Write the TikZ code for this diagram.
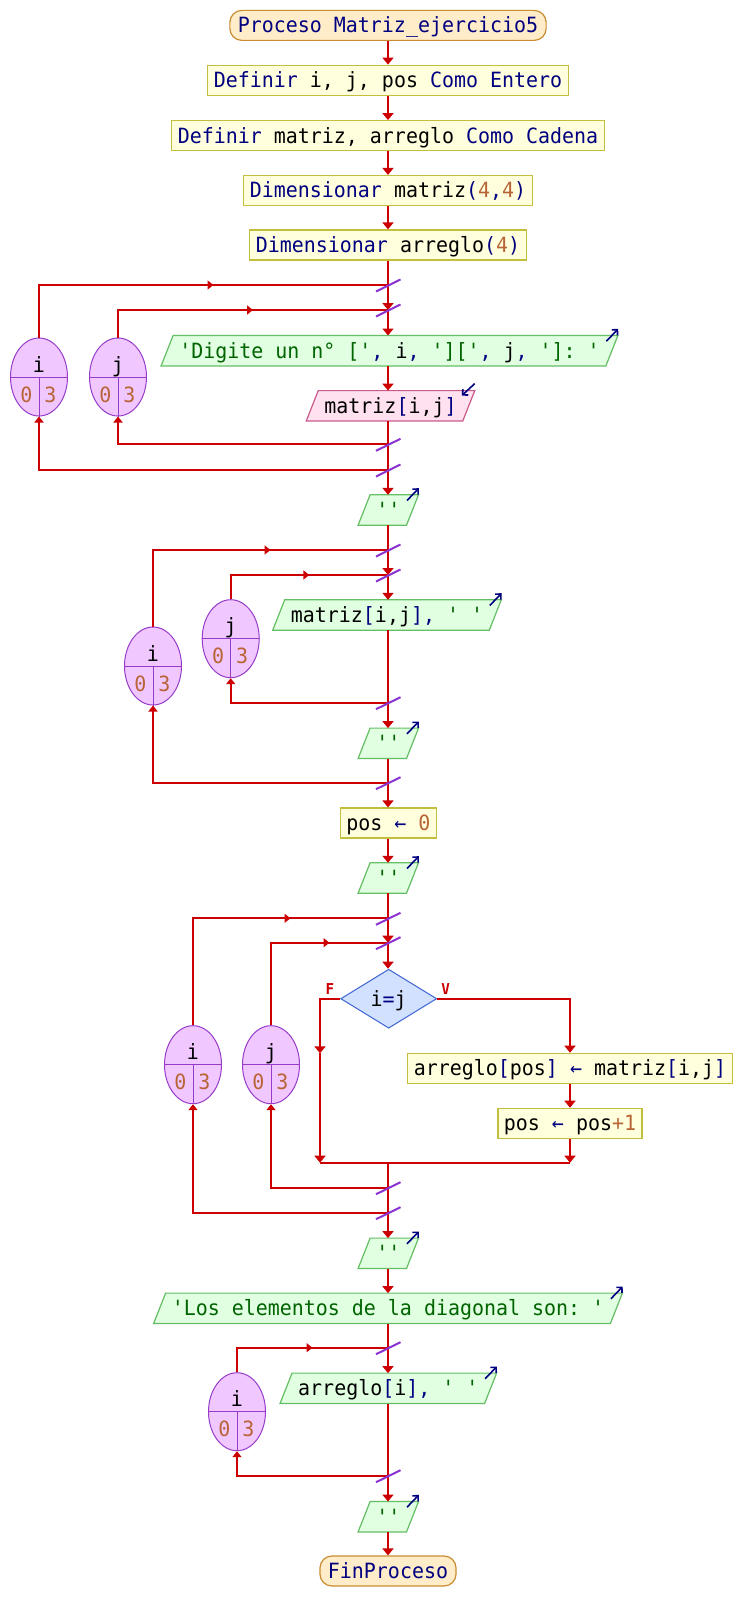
\documentclass[tikz,border=0pt]{standalone}
\usepackage{fontspec}
\setmonofont[FakeStretch=0.95]{DejaVu Sans Mono}
\usetikzlibrary{arrows.meta,shapes.geometric,calc,backgrounds,decorations.markings}
\definecolor{lred}{RGB}{204,0,0}
\definecolor{slashc}{RGB}{140,50,210}
\definecolor{kwc}{RGB}{0,0,128}
\definecolor{strc}{RGB}{0,100,0}
\definecolor{numc}{RGB}{185,100,55}
\definecolor{procfill}{RGB}{255,255,221}
\definecolor{procdraw}{RGB}{195,190,60}
\definecolor{termfill}{RGB}{255,236,200}
\definecolor{termdraw}{RGB}{200,140,50}
\definecolor{outfill}{RGB}{225,255,225}
\definecolor{outdraw}{RGB}{100,190,100}
\definecolor{infill}{RGB}{255,225,240}
\definecolor{indraw}{RGB}{200,90,140}
\definecolor{diafill}{RGB}{210,225,255}
\definecolor{diadraw}{RGB}{60,100,210}
\definecolor{ellfill}{RGB}{240,200,255}
\definecolor{elldraw}{RGB}{150,60,200}
\newcommand{\ckw}[1]{\textcolor{kwc}{#1}}
\newcommand{\cst}[1]{\textcolor{strc}{#1}}
\newcommand{\cnm}[1]{\textcolor{numc}{#1}}
\newcommand{\drawpara}[2]{%
  \begin{scope}[on background layer]
    \draw[#2] ($(#1.south west)+(-6,0)$) -- ($(#1.north west)+(6,0)$) -- ($(#1.north east)+(6,0)$) -- ($(#1.south east)+(-6,0)$) -- cycle;
  \end{scope}}
\newcommand{\outicon}[1]{\draw[iconarrow] ($(#1.north east)+(-5.5,5.7)$) -- ($(#1.north east)+(6.3,-6.6)$);}
\newcommand{\slashmark}[1]{\draw[slashline] ($(#1)+(-12,6.5)$) -- ($(#1)+(12.5,-5.5)$);}
\newcommand{\loopvar}[4]{%
  \node[loopell] (#1) at (#2,#3) {};
  \draw[ellline] (#1.west) -- (#1.east) (#1.center) -- (#1.south);
  \node[vartext] (#1v) at ($(#1)+(0,-5)$) {#4};
  \node[vartext,text=numc] (#1a) at ($(#1)+(-12.5,25)$) {0};
  \node[vartext,text=numc] (#1b) at ($(#1)+(11.5,25)$) {3};}
\tikzset{
  codefont/.style={font=\ttfamily\fontsize{21}{24}\selectfont},
  boxbase/.style={codefont, minimum height=30pt, inner ysep=0pt, text height=17pt, text depth=2pt},
  procbox/.style={boxbase, rectangle, inner xsep=6pt, fill=procfill, draw=procdraw, line width=1.2pt},
  termbox/.style={boxbase, rectangle, rounded corners=12pt, inner xsep=8pt, fill=termfill, draw=termdraw, line width=1.2pt},
  paratext/.style={boxbase, rectangle, inner xsep=12pt},
  outpara/.style={fill=outfill, draw=outdraw, line width=1.2pt},
  inpara/.style={fill=infill, draw=indraw, line width=1.2pt},
  diabox/.style={codefont, diamond, aspect=1.63, minimum width=96pt, minimum height=59pt, inner sep=0pt, text height=17pt, text depth=2pt, fill=diafill, draw=diadraw, line width=1pt},
  loopell/.style={ellipse, minimum width=57pt, minimum height=78pt, inner sep=0pt, fill=ellfill, draw=elldraw, line width=1pt},
  ellline/.style={draw=elldraw, line width=1pt},
  vartext/.style={codefont, anchor=base, inner sep=0pt},
  flow/.style={color=lred, line width=2.1pt},
  flowarrow/.style={-{Triangle[width=11pt,length=7pt]}},
  smallarrow/.style={-{Triangle[width=9pt,length=6pt]}},
  midarr/.style={postaction={decorate}, decoration={markings, mark=at position 0.5 with {\arrow{Triangle[width=9pt,length=6pt]}}}},
  slashline/.style={draw=slashc, line width=2pt},
  iconarrow/.style={color=kwc, line width=1.6pt, -{Straight Barb[length=4pt,width=8pt]}},
  flab/.style={font=\ttfamily\bfseries\fontsize{15}{15}\selectfont, text=lred, inner sep=0pt},
}
\begin{document}
\begin{tikzpicture}[x=1pt,y=-1pt]
\begin{scope}[on background layer]
  \fill[white] (0,0) rectangle (742,1621);
\end{scope}
\useasboundingbox (0,0) rectangle (742,1621);

% ---------- boxes ----------
\node[termbox] (start) at (388,25.4) {\ckw{Proceso Matriz\_ejercicio5}};
\node[procbox] (d1) at (388,80.2) {\ckw{Definir} i, j, pos \ckw{Como Entero}};
\node[procbox] (d2) at (388,135.7) {\ckw{Definir} matriz, arreglo \ckw{Como Cadena}};
\node[procbox] (dim1) at (388,190.5) {\ckw{Dimensionar} matriz\ckw{(}\cnm{4}\ckw{,}\cnm{4}\ckw{)}};
\node[procbox] (dim2) at (388,245) {\ckw{Dimensionar} arreglo\ckw{(}\cnm{4}\ckw{)}};

\node[paratext] (dig) at (389.5,350.7) {\cst{'Digite un n° ['}\ckw{, }i\ckw{, }\cst{']['}\ckw{, }j\ckw{, }\cst{']: '}};
\node[paratext] (read) at (390.5,405.8) {matriz\ckw{[}i,j\ckw{]}};
\node[paratext] (q1) at (388.3,510) {\cst{''}};
\node[paratext] (out2) at (387,615) {matriz\ckw{[}i,j\ckw{]}\ckw{, }\cst{' '}};
\node[paratext] (q2) at (388.3,743.3) {\cst{''}};
\node[procbox] (pos0) at (388.3,823) {pos \ckw{←} \cnm{0}};
\node[paratext] (q3) at (388.3,878) {\cst{''}};
\node[diabox] (dia) at (388.7,998.7) {i\ckw{=}j};
\node[flab] (flabel) at (330,989) {F};
\node[flab] (vlabel) at (445.7,989) {V};
\node[procbox] (arrb) at (570,1068.3) {arreglo\ckw{[}pos\ckw{]} \ckw{←} matriz\ckw{[}i,j\ckw{]}};
\node[procbox] (inc) at (570,1123.3) {pos \ckw{←} pos\cnm{+1}};
\node[paratext] (q4) at (388.3,1253.3) {\cst{''}};
\node[paratext] (los) at (388,1308.3) {\cst{'Los elementos de la diagonal son: '}};
\node[paratext] (out4) at (388.3,1388.3) {arreglo\ckw{[}i\ckw{]}\ckw{, }\cst{' '}};
\node[paratext] (q5) at (388.3,1516.7) {\cst{''}};
\node[termbox] (fin) at (388,1571) {\ckw{FinProceso}};

\drawpara{dig}{outpara}
\drawpara{read}{inpara}
\drawpara{q1}{outpara}
\drawpara{out2}{outpara}
\drawpara{q2}{outpara}
\drawpara{q3}{outpara}
\drawpara{q4}{outpara}
\drawpara{los}{outpara}
\drawpara{out4}{outpara}
\drawpara{q5}{outpara}

% ---------- loop variables ----------
\loopvar{e1i}{39}{377}{i}
\loopvar{e1j}{118}{377}{j}
\loopvar{e2i}{153}{666}{i}
\loopvar{e2j}{230.7}{638.7}{j}
\loopvar{e3i}{193}{1064.7}{i}
\loopvar{e3j}{271}{1064.7}{j}
\loopvar{e4i}{237}{1411.7}{i}

% ---------- coordinates on the axis ----------
\coordinate (l1i) at (388,285);
\coordinate (l1j) at (388,310);
\coordinate (r1j) at (388,444.3);
\coordinate (r1i) at (388,470);
\coordinate (l2i) at (388,550);
\coordinate (l2j) at (388,575);
\coordinate (r2j) at (388,702.7);
\coordinate (r2i) at (388,782.7);
\coordinate (l3i) at (388,918.3);
\coordinate (l3j) at (388,942.7);
\coordinate (fa) at (320,1053.3);
\coordinate (mrgL) at (320,1162.7);
\coordinate (mrg) at (388,1162.7);
\coordinate (mrgR) at (570,1162.7);
\coordinate (r3j) at (388,1187.7);
\coordinate (r3i) at (388,1212.7);
\coordinate (l4i) at (388,1347.7);
\coordinate (r4i) at (388,1475.7);

% ---------- main flow ----------
\draw[flow,flowarrow] (start.south) -- (d1.north);
\draw[flow,flowarrow] (d1.south) -- (d2.north);
\draw[flow,flowarrow] (d2.south) -- (dim1.north);
\draw[flow,flowarrow] (dim1.south) -- (dim2.north);
\draw[flow] (dim2.south) -- (l1i);
\draw[flow,flowarrow] (l1i) -- (l1j);
\draw[flow,flowarrow] (l1j) -- (l1j |- dig.north);
\draw[flow,flowarrow] (dig.south -| l1j) -- (read.north -| l1j);
\draw[flow] (read.south -| l1j) -- (r1j) -- (r1i);
\draw[flow,flowarrow] (r1i) -- (q1.north -| r1i);

\draw[flow] (q1.south -| l2i) -- (l2i);
\draw[flow,flowarrow] (l2i) -- (l2j);
\draw[flow,flowarrow] (l2j) -- (out2.north -| l2j);
\draw[flow] (out2.south -| l2j) -- (r2j);
\draw[flow,flowarrow] (r2j) -- (q2.north -| r2j);
\draw[flow] (q2.south -| r2j) -- (r2i);
\draw[flow,flowarrow] (r2i) -- (pos0.north -| r2i);
\draw[flow,flowarrow] (pos0.south -| r2i) -- (q3.north -| r2i);

\draw[flow] (q3.south -| l3i) -- (l3i);
\draw[flow,flowarrow] (l3i) -- (l3j);
\draw[flow,flowarrow] (l3j) -- (l3j |- dia.north);
\draw[flow,flowarrow] (dia.west) -| (fa);
\draw[flow,flowarrow] (fa) -- (mrgL);
\draw[flow,flowarrow] (dia.east) -| (arrb.north);
\draw[flow,flowarrow] (arrb.south) -- (inc.north);
\draw[flow,flowarrow] (inc.south) -- (mrgR);
\draw[flow] (mrgL) -- (mrgR);
\draw[flow] (mrg) -- (r3j) -- (r3i);
\draw[flow,flowarrow] (r3i) -- (q4.north -| r3i);
\draw[flow,flowarrow] (q4.south -| r3i) -- (los.north -| r3i);
\draw[flow] (los.south -| l4i) -- (l4i);
\draw[flow,flowarrow] (l4i) -- (out4.north -| l4i);
\draw[flow] (out4.south -| l4i) -- (r4i);
\draw[flow,flowarrow] (r4i) -- (q5.north -| r4i);
\draw[flow,flowarrow] (q5.south -| r4i) -- (fin.north);

% ---------- loop connectors ----------
\foreach \e/\l/\r in {e1i/l1i/r1i, e1j/l1j/r1j, e2i/l2i/r2i, e2j/l2j/r2j, e3i/l3i/r3i, e3j/l3j/r3j, e4i/l4i/r4i}{
  \draw[flow] (\e.north) |- (\l);
  \draw[flow,midarr] (\e.north |- \l) -- (\l);
  \draw[flow,smallarrow] (\r) -| (\e.south);
}

% ---------- slashes ----------
\foreach \p in {l1i,l1j,r1j,r1i,l2i,l2j,r2j,r2i,l3i,l3j,r3j,r3i,l4i,r4i}{
  \slashmark{\p}
}

% ---------- icons ----------
\outicon{dig}
\outicon{q1}
\outicon{out2}
\outicon{q2}
\outicon{q3}
\outicon{q4}
\outicon{los}
\outicon{out4}
\outicon{q5}
\draw[iconarrow] ($(read.north east)+(6,-7)$) -- ($(read.north east)+(-7,5)$);
\end{tikzpicture}
\end{document}
